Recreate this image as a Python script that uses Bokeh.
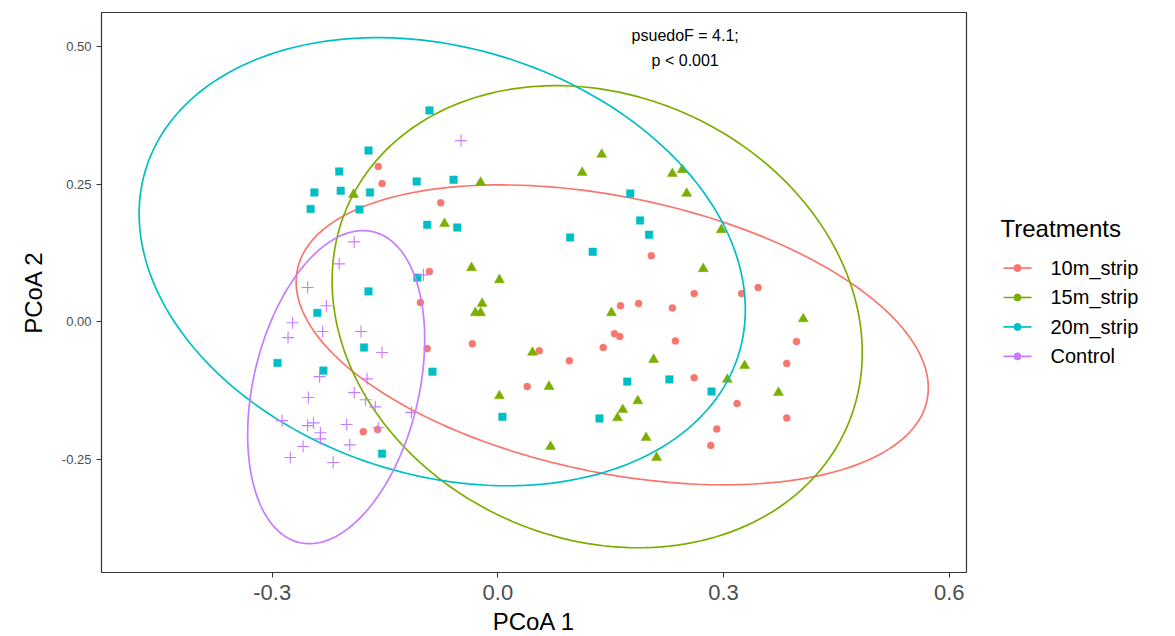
import numpy as np
from bokeh.plotting import figure
from bokeh.layouts import row
from bokeh.models import (FixedTicker, NumeralTickFormatter, Range1d, ColumnDataSource)
from bokeh.core.properties import value
from bokeh.embed import file_html
from bokeh.resources import INLINE

groups = ["10m_strip", "15m_strip", "20m_strip", "Control"]
colors = ["#F8766D", "#7CAE00", "#00BFC4", "#C77CFF"]

x_10m = [-0.159, -0.154, -0.076, -0.091, -0.103, -0.094, -0.034, 0.055, 0.039, 0.095,
         0.140, 0.155, 0.162, 0.163, 0.187, 0.204, 0.232, 0.236, 0.261, 0.261,
         0.324, 0.346, 0.397, 0.384, 0.318, 0.384, 0.291, 0.283, -0.179, -0.160]
y_10m = [0.282, 0.251, 0.216, 0.091, 0.035, -0.049, -0.040, -0.053, -0.118, -0.071,
         -0.047, -0.022, -0.027, 0.029, 0.033, 0.120, 0.025, -0.035, 0.051, -0.102,
         0.051, 0.062, -0.036, -0.076, -0.149, -0.175, -0.195, -0.225, -0.200, -0.196]

x_15m = [-0.192, -0.071, -0.035, -0.023, 0.112, 0.138, 0.002, -0.021, -0.030, -0.023,
         0.046, 0.068, 0.002, 0.070, 0.151, 0.207, 0.186, 0.166, 0.159, 0.197,
         0.211, 0.232, 0.245, 0.251, 0.297, 0.273, 0.406, 0.328, 0.305, 0.373]
y_15m = [0.231, 0.178, 0.098, 0.253, 0.271, 0.304, 0.076, 0.033, 0.016, 0.016,
         -0.056, -0.118, -0.135, -0.227, 0.016, -0.069, -0.144, -0.160, -0.175, -0.211,
         -0.247, 0.269, 0.276, 0.233, 0.167, 0.096, 0.005, -0.080, -0.105, -0.129]

x_20m = [-0.091, -0.172, -0.211, -0.244, -0.209, -0.170, -0.249, -0.184, -0.108, -0.059,
         -0.094, -0.054, -0.107, -0.172, 0.096, 0.126, 0.176, 0.189, 0.201, -0.240,
         -0.178, -0.293, -0.232, -0.154, -0.087, 0.006, 0.172, 0.228, 0.135, 0.284]
y_20m = [0.384, 0.311, 0.273, 0.235, 0.238, 0.235, 0.205, 0.204, 0.255, 0.258,
         0.176, 0.171, 0.080, 0.055, 0.153, 0.127, 0.233, 0.184, 0.158, 0.016,
         -0.047, -0.075, -0.089, -0.240, -0.091, -0.173, -0.109, -0.105, -0.176, -0.127]

x_ctrl = [-0.049, -0.191, -0.211, -0.253, -0.099, -0.228, -0.273, -0.233, -0.279, -0.182,
          -0.154, -0.237, -0.174, -0.252, -0.191, -0.176, -0.163, -0.287, -0.245, -0.253,
          -0.236, -0.236, -0.201, -0.159, -0.115, -0.259, -0.197, -0.276, -0.219]
y_ctrl = [0.329, 0.145, 0.105, 0.062, 0.085, 0.029, -0.002, -0.018, -0.029, -0.018,
          -0.056, -0.100, -0.104, -0.138, -0.129, -0.142, -0.155, -0.180, -0.184, -0.189,
          -0.202, -0.213, -0.187, -0.193, -0.165, -0.227, -0.224, -0.247, -0.256]

# 95% ellipse: centre and scaled covariance (xx, yy, xy) per group
ell_cx = [0.152, 0.132, -0.074, -0.215]
ell_cy = [-0.024, 0.009, 0.109, -0.119]
ell_sxx = [0.1766, 0.1242, 0.1624, 0.01385]
ell_syy = [0.0743, 0.1764, 0.1659, 0.0810]
ell_sxy = [-0.0405, -0.0230, -0.0351, 0.01016]

x_ticks = [-0.3, 0.0, 0.3, 0.6]
y_ticks = [-0.25, 0.0, 0.25, 0.50]
annot_lines = ["psuedoF = 4.1;", "p < 0.001"]
annot_x = 0.249
annot_y = [0.520, 0.4745]
legend_title = "Treatments"

FONT = "Liberation Sans"
TOP, FH = 12, 560

p = figure(output_backend="svg", toolbar_location=None,
           frame_width=865, frame_height=FH,
           x_range=Range1d(-0.527, 0.623), y_range=Range1d(-0.456, 0.562),
           min_border_left=101, min_border_top=TOP, min_border_right=5, min_border_bottom=5)
p.xgrid.visible = False
p.ygrid.visible = False
p.outline_line_color = "#333333"
p.outline_line_width = 1.2
p.background_fill_color = "white"
p.border_fill_color = "white"

for ax in (p.xaxis[0], p.yaxis[0]):
    ax.axis_line_color = None
    ax.major_tick_line_color = "#333333"
    ax.major_tick_in = 0
    ax.major_tick_out = 5
    ax.minor_tick_line_color = None
    ax.major_label_text_font = FONT
    ax.major_label_text_color = "#4D4D4D"
    ax.axis_label_text_font = FONT
    ax.axis_label_text_font_style = "normal"
    ax.axis_label_text_color = "black"
    ax.axis_label_text_font_size = "24px"

p.xaxis.ticker = FixedTicker(ticks=x_ticks)
p.yaxis.ticker = FixedTicker(ticks=y_ticks)
p.xaxis.formatter = NumeralTickFormatter(format="0.0")
p.yaxis.formatter = NumeralTickFormatter(format="0.00")
p.xaxis.major_label_text_font_size = "22px"
p.yaxis.major_label_text_font_size = "13px"
p.xaxis.major_label_standoff = 7
p.yaxis.major_label_standoff = 5
p.xaxis.axis_label = "PCoA 1"
p.yaxis.axis_label = "PCoA 2"
p.xaxis.axis_label_standoff = 5
p.yaxis.axis_label_standoff = 12

xs_all = [x_10m, x_15m, x_20m, x_ctrl]
ys_all = [y_10m, y_15m, y_20m, y_ctrl]
markers = ["circle", "triangle", "square", "cross"]
sizes = [7, 10, 7.5, 12]

t = np.linspace(0, 2 * np.pi, 200)
for i, g in enumerate(groups):
    cov = np.array([[ell_sxx[i], ell_sxy[i]], [ell_sxy[i], ell_syy[i]]])
    L = np.linalg.cholesky(cov)
    pts = L @ np.vstack([np.cos(t), np.sin(t)])
    p.line(ell_cx[i] + pts[0], ell_cy[i] + pts[1], line_color=colors[i], line_width=1.7)

    src = ColumnDataSource(dict(x=xs_all[i], y=ys_all[i]))
    if markers[i] == "cross":
        p.scatter("x", "y", source=src, marker="cross", size=sizes[i],
                  line_color=colors[i], line_width=1.1)
    else:
        p.scatter("x", "y", source=src, marker=markers[i], size=sizes[i],
                  fill_color=colors[i], line_color=colors[i], line_width=0.5)

for line, yy in zip(annot_lines, annot_y):
    p.text(x=[annot_x], y=[yy], text=[line], text_align="center", text_baseline="middle",
           text_font=value(FONT), text_font_size="16px", text_color="black")

# ---- legend panel (separate small figure; its frame is aligned with the main frame,
#      so its y range is expressed in page pixels from TOP to TOP+FH) ----
LW = 196
leg = figure(output_backend="svg", toolbar_location=None, width=LW, height=636,
             x_range=Range1d(0, LW), y_range=Range1d(TOP + FH, TOP),
             x_axis_location=None, y_axis_location=None,
             min_border=0)
leg.xgrid.visible = False
leg.ygrid.visible = False
leg.outline_line_color = None
leg.background_fill_color = "white"
leg.border_fill_color = "white"

leg.text(x=[29], y=[228], text=[legend_title], text_align="left", text_baseline="middle",
         text_font=value(FONT), text_font_size="24px", text_color="black")
row_y = [268 + 29.5 * k for k in range(len(groups))]
leg.segment(x0=[32] * len(groups), y0=row_y, x1=[60] * len(groups), y1=row_y,
            line_color=colors, line_width=1.7)
leg.scatter(x=[46] * len(groups), y=row_y, marker="circle", size=7,
            fill_color=colors, line_color=colors)
leg.text(x=[79] * len(groups), y=row_y, text=groups, text_align="left",
         text_baseline="middle", text_font=value(FONT), text_font_size="20px",
         text_color="black")

layout = row(p, leg, spacing=0)
open("out.html", "w").write(file_html(layout, INLINE))
